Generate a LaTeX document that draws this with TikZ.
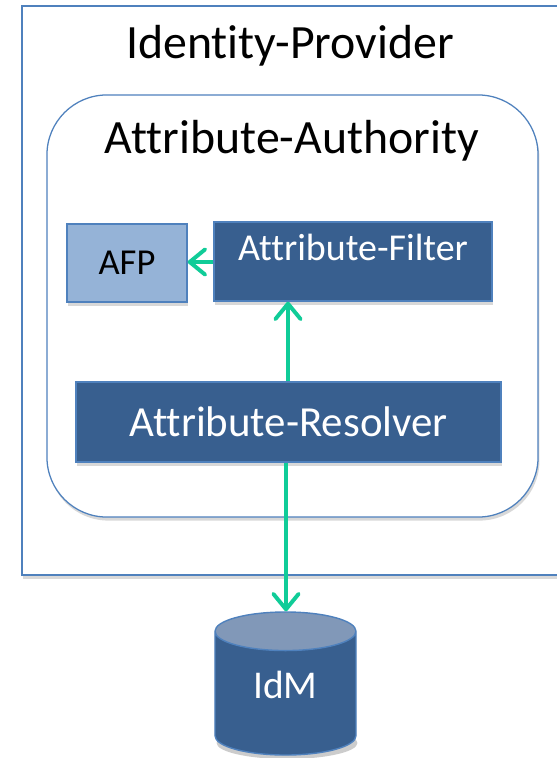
\documentclass[tikz,border=0pt]{standalone}
\usepackage{fontspec}
\setmainfont{Carlito}[Ligatures={NoCommon,NoRequired,NoContextual}]
\usepackage{tikz}
\usetikzlibrary{arrows.meta,shapes.geometric,shadows,positioning}

\definecolor{frameblue}{HTML}{4F81BD}
\definecolor{boxblue}{HTML}{385F8F}
\definecolor{lightblue}{HTML}{95B3D7}
\definecolor{topblue}{HTML}{8198B8}
\definecolor{flowgreen}{HTML}{10CC98}

\tikzset{
  boxshadow/.style={drop shadow={opacity=0.3,shadow xshift=1pt,shadow yshift=-2.5pt}},
  darkbox/.style={draw=frameblue,line width=1pt,fill=boxblue,text=white,boxshadow,inner sep=0pt},
  lightbox/.style={draw=frameblue,line width=1pt,fill=lightblue,text=black,boxshadow,inner sep=0pt},
  store/.style={cylinder,shape border rotate=90,aspect=0.6,inner sep=0pt,
    minimum width=3.525cm,minimum height=3.575cm,anchor=shape center},
  flow/.style={draw=flowgreen,line width=2.8pt,
    -{Straight Barb[length=11pt,width=18pt,line cap=round,line join=round]}}
}

\begin{document}
\begin{tikzpicture}[x=0.025cm,y=-0.025cm]
\useasboundingbox (0,0) rectangle (557,758);

% outer frame, open on the right
\node[draw=frameblue,line width=1.3pt,fill=white,boxshadow,inner sep=0pt,
      minimum width=14.5cm,minimum height=14.225cm] (idp) at (312,290.5) {};
\node[font=\fontsize{34}{37}\selectfont] (idptitle) at (290,46) {Identity-Provider};

% attribute authority
\node[draw=frameblue,line width=0.9pt,fill=white,rounded corners=1.5cm,boxshadow,inner sep=0pt,
      minimum width=12.275cm,minimum height=10.55cm] (aa) at (292.5,306) {};
\node[font=\fontsize{34}{37}\selectfont] (aatitle) at (292,141) {Attribute-Authority};

\node[lightbox,minimum width=3cm,minimum height=1.95cm,
      font=\fontsize{26}{28}\selectfont] (afp) at (127,263) {AFP};
\node[darkbox,minimum width=6.95cm,minimum height=1.975cm,text depth=0.7cm,
      font=\fontsize{27}{29}\selectfont] (filter) at (353,261.5) {Attribute-Filter};
\node[darkbox,minimum width=10.625cm,minimum height=2cm,
      font=\fontsize{30.5}{33}\selectfont] (resolver) at (288.5,422) {Attribute-Resolver};

% data store
\fill[black,opacity=0.2] (287,743) ellipse (1.76cm and 0.4cm);
\node[store,draw=frameblue,line width=1pt,text depth=0.45cm,
      cylinder uses custom fill,cylinder body fill=boxblue,cylinder end fill=topblue,
      text=white,font=\fontsize{28}{30}\selectfont] (idm) at (285.5,683.5) {IdM};

\draw[flow] (filter.west |- 0,262) -- (afp.east |- 0,262);
\draw[flow] (resolver.north -| 288,0) -- (filter.south -| 288,0);
\draw[flow] (resolver.south -| 286,0) -- (idm.top -| 286,0);

\end{tikzpicture}
\end{document}
